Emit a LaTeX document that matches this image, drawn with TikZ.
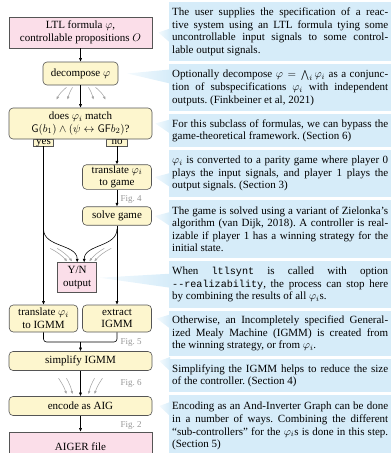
\documentclass[tikz,border=0pt]{standalone}
\usepackage{fontspec}
\setmainfont{Liberation Serif}
\setmonofont[Scale=0.92]{Liberation Mono}
\usetikzlibrary{arrows.meta,calc,positioning}

\definecolor{pinkfill}{RGB}{251,222,233}
\definecolor{creamfill}{RGB}{253,246,206}
\definecolor{notefill}{RGB}{214,236,249}
\definecolor{edgegray}{RGB}{85,85,85}
\definecolor{fangray}{RGB}{165,165,165}
\definecolor{figgray}{RGB}{150,150,150}

\pgfdeclarelayer{background}
\pgfsetlayers{background,main}

\frenchspacing

\tikzset{
  txt/.style={font=\fontsize{11}{12.6}\selectfont},
  base/.style={txt, draw=edgegray, line width=0.6pt, align=center, inner sep=1pt},
  io/.style={base, fill=pinkfill},
  stage/.style={base, fill=creamfill, rounded corners=4pt},
  tab/.style={txt, draw=edgegray, line width=0.6pt, fill=creamfill, inner sep=0pt,
    minimum width=20.5pt, text height=5pt, text depth=2pt},
  note/.style={txt, fill=notefill, anchor=north west, text width=216pt,
    align=justify, inner xsep=3pt, inner ysep=2pt},
  flow/.style={-{Latex[length=3.6pt,width=3.2pt]}, line width=0.6pt},
  fan/.style={flow, draw=fangray, line width=0.55pt,
    -{Latex[length=3.2pt,width=2.8pt]}},
  figref/.style={text=figgray, font=\fontsize{9}{10}\selectfont, inner sep=0pt, anchor=west},
  tail/.style={left color=notefill!25, right color=notefill}
}

\begin{document}
\begin{tikzpicture}[x=1pt,y=-1pt]
\useasboundingbox (0,0) rectangle (391,453);
\clip (0,0) rectangle (391,453);

% ---- processing pipeline ----
\node[io, minimum width=143pt, minimum height=31pt] (ltl) at (80.5,32.5)
  {LTL formula $\varphi$,\\controllable propositions $O$};
\node[stage, minimum width=75pt, minimum height=23pt] (decomp) at (80.5,73.5)
  {decompose $\varphi$};

\node[tab] (yes) at (43.5,142.5) {yes};
\node[tab] (no) at (117,142.5) {no};
\node[stage, minimum width=143pt, minimum height=31pt] (match) at (80.5,123.5)
  {does $\varphi_i$ match\\$\mathsf{G}(b_1)\land(\psi\leftrightarrow\mathsf{GF}b_2)$?};

\node[stage, minimum width=69pt, minimum height=24pt] (tgame) at (117,177)
  {translate $\varphi_i$\\to game};
\node[stage, minimum width=69pt, minimum height=18.5pt] (solve) at (117,216)
  {solve game};
\node[io, minimum width=39pt, minimum height=30pt] (yn) at (77.2,277.7)
  {Y/N\\output};
\node[stage, minimum width=68.5pt, minimum height=27pt] (tigmm) at (43.5,318.5)
  {translate $\varphi_i$\\to IGMM};
\node[stage, minimum width=69pt, minimum height=27pt] (xigmm) at (117,318.5)
  {extract\\IGMM};
\node[stage, minimum width=143pt, minimum height=19pt] (simp) at (80.5,361)
  {simplify IGMM};
\node[stage, minimum width=143pt, minimum height=19pt] (enc) at (80.5,406)
  {encode as AIG};
\node[io, minimum width=143pt, minimum height=30pt] (aiger) at (80.5,447)
  {AIGER file};

% main flow
\draw[flow] (ltl) -- (decomp);
\draw[flow] (decomp) -- (match);
\draw[flow] (no.south) -- (tgame.north);
\draw[flow] (tgame) -- (solve);
\draw[flow] (yes.south) -- (yes.south |- tigmm.north);
\draw[flow] (solve.south) -- (solve.south |- xigmm.north);

% both branches also report realizability
\coordinate (ysplit) at (43.5,229);
\coordinate (nsplit) at (117,229);
\draw[flow] (ysplit) to[out=-90,in=90] (yn.north);
\draw[flow] (nsplit) to[out=-90,in=90] ([xshift=7pt]yn.north);

% merging the two ways of building an IGMM
\coordinate (join) at (80.5,342);
\draw[line width=0.6pt, rounded corners=3pt] (tigmm.south) |- (join) -| (xigmm.south);
\draw[flow] (join) -- (simp);
\draw[flow] (simp) -- (enc);
\draw[flow] (enc) -- (aiger);

% one sub-specification per output group
\draw[fan] ([xshift=-14pt,yshift=-2pt]decomp.south) to[bend right=12] ([xshift=-24pt,yshift=8pt]match.north);
\draw[fan] ([xshift=-8pt,yshift=-2pt]decomp.south) to[bend right=8] ([xshift=-13pt,yshift=8pt]match.north);
\draw[fan] ([xshift=8pt,yshift=-2pt]decomp.south) to[bend left=8] ([xshift=13pt,yshift=8pt]match.north);
\draw[fan] ([xshift=15pt,yshift=-2pt]decomp.south) to[bend left=12] ([xshift=25pt,yshift=8pt]match.north);

\draw[fan] ([xshift=-27pt,yshift=14pt]yn.north) to[bend left=10] ([xshift=-10pt,yshift=1pt]yn.north);
\draw[fan] ([xshift=-20pt,yshift=14pt]yn.north) to[bend left=10] ([xshift=-5pt,yshift=1pt]yn.north);
\draw[fan] ([xshift=27pt,yshift=14pt]yn.north) to[bend right=10] ([xshift=12pt,yshift=1pt]yn.north);
\draw[fan] ([xshift=34pt,yshift=14pt]yn.north) to[bend right=10] ([xshift=17pt,yshift=1pt]yn.north);

\draw[fan] ([xshift=-22pt,yshift=18pt]enc.north) to[bend left=8] ([xshift=-14pt,yshift=2pt]enc.north);
\draw[fan] ([xshift=-14pt,yshift=18pt]enc.north) to[bend left=8] ([xshift=-8pt,yshift=2pt]enc.north);
\draw[fan] ([xshift=14pt,yshift=18pt]enc.north) to[bend right=8] ([xshift=8pt,yshift=2pt]enc.north);
\draw[fan] ([xshift=22pt,yshift=18pt]enc.north) to[bend right=8] ([xshift=14pt,yshift=2pt]enc.north);

% figure references
\node[figref] (f4) at (120.5,199.5) {Fig. 4};
\node[figref] (f5) at (120.5,342.5) {Fig. 5};
\node[figref] (f6) at (120.5,383.5) {Fig. 6};
\node[figref] (f2) at (120.5,425.5) {Fig. 2};

% ---- explanations ----
\node[note, minimum height=59pt] (c1) at (169,2)
  {The user supplies the specification of a reac-\linebreak tive system using an LTL formula tying some\linebreak uncontrollable input signals to some control-\linebreak lable output signals.};
\node[note, minimum height=47pt] (c2) at (169,64)
  {Optionally decompose $\varphi=\bigwedge_i\varphi_i$ as a conjunc-\linebreak tion of subspecifications $\varphi_i$ with independent\linebreak outputs. (Finkbeiner et al, 2021)};
\node[note, minimum height=33pt] (c3) at (169,114)
  {For this subclass of formulas, we can bypass the\linebreak game-theoretical framework. (Section 6)};
\node[note, minimum height=47pt] (c4) at (169,150)
  {$\varphi_i$ is converted to a parity game where player 0\linebreak plays the input signals, and player 1 plays the\linebreak output signals. (Section 3)};
\node[note, minimum height=58pt] (c5) at (169,200)
  {The game is solved using a variant of Zielonka’s\linebreak algorithm (van Dijk, 2018). A controller is real-\linebreak izable if player 1 has a winning strategy for the\linebreak initial state.};
\node[note, minimum height=47pt] (c6) at (169,261)
  {When \texttt{ltlsynt} is called with option\linebreak \texttt{-{}-realizability}, the process can stop here\linebreak by combining the results of all $\varphi_i$s.};
\node[note, minimum height=45pt] (c7) at (169,311)
  {Otherwise, an Incompletely specified General-\linebreak ized Mealy Machine (IGMM) is created from\linebreak the winning strategy, or from $\varphi_i$.};
\node[note, minimum height=33pt] (c8) at (169,359)
  {Simplifying the IGMM helps to reduce the size\linebreak of the controller. (Section 4)};
\node[note, minimum height=62pt] (c9) at (169,395)
  {Encoding as an And-Inverter Graph can be done\linebreak in a number of ways. Combining the different\linebreak “sub-controllers” for the $\varphi_i$s is done in this step.\linebreak (Section 5)};

% pointers from each explanation to its stage
\begin{pgfonlayer}{background}
\foreach \st/\cl/\gap in {ltl/c1/6, decomp/c2/9, match/c3/3, tgame/c4/3, solve/c5/3,
                          yn/c6/2.5, xigmm/c7/5, simp/c8/7, enc/c9/7}{
  \path ($(\st.east)+(\gap pt,0)$) coordinate (tip);
  \shade[tail] (tip) -- ($(tip -| \cl.west)+(1pt,4pt)$) -- ($(tip -| \cl.west)+(1pt,-10pt)$) -- cycle;
}
\end{pgfonlayer}
\end{tikzpicture}
\end{document}
